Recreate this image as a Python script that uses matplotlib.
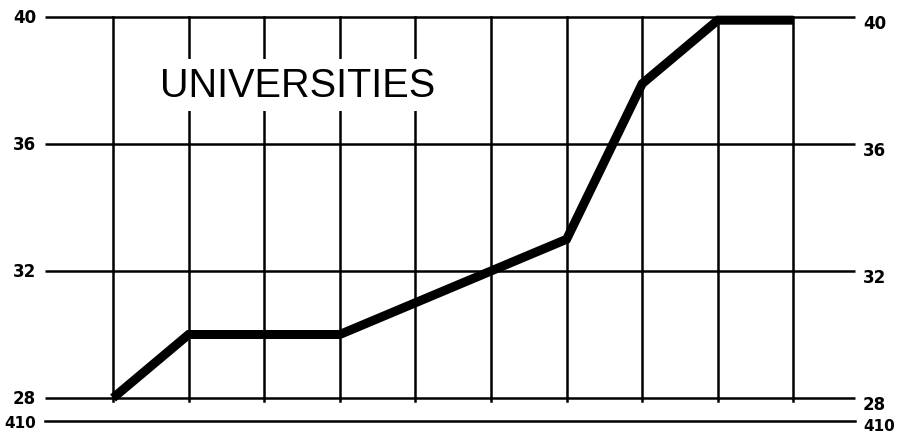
import matplotlib
matplotlib.use("Agg")
import matplotlib.pyplot as plt

# Data
years_idx = [0, 1, 2, 3, 4, 5, 6, 7, 8, 9]
universities = [28, 30, 30, 30, 31, 32, 33, 37.9, 39.9, 39.9]
grid_values = [40, 36, 32, 28]
grid_labels = ["40", "36", "32", "28"]
bottom_value = 27.28
bottom_label = "410"
title = "UNIVERSITIES"

fig = plt.figure(figsize=(8.99, 4.35), dpi=100)
ax = fig.add_axes([0, 0, 1, 1])
ax.set_xlim(-1.495, 10.397)
ax.set_ylim(26.866, 40.567)
ax.axis("off")

x_left, x_right = -0.9, 9.81

# horizontal lines
for v in grid_values:
    ax.plot([x_left, x_right], [v, v], color="black", lw=1.8, solid_capstyle="butt", zorder=2)
ax.plot([x_left, x_right], [bottom_value, bottom_value], color="black", lw=1.8, zorder=2)

# vertical lines
for i in years_idx:
    ax.plot([i, i], [27.92, 40], color="black", lw=1.8, zorder=2)

# data line
ax.plot(years_idx, universities, color="black", lw=6.5, solid_joinstyle="miter",
        solid_capstyle="butt", zorder=4)

# labels
fprops = dict(fontsize=12, fontweight="heavy", family="DejaVu Sans", color="black")
for v, lab in zip(grid_values, grid_labels):
    ax.text(-1.02, v, lab, ha="right", va="center", **fprops)
    ax.text(9.92, v - 0.2, lab, ha="left", va="center", **fprops)
bprops = dict(fprops, fontsize=11)
ax.text(-1.02, bottom_value - 0.05, bottom_label, ha="right", va="center", **bprops)
ax.text(9.92, bottom_value - 0.15, bottom_label, ha="left", va="center", **bprops)

ax.text(0.62, 37.85, title, ha="left", va="center", fontsize=28.5,
        family="Liberation Sans", color="black", zorder=3,
        bbox=dict(facecolor="white", edgecolor="none", pad=5))

fig.savefig("out.png", dpi=100)
